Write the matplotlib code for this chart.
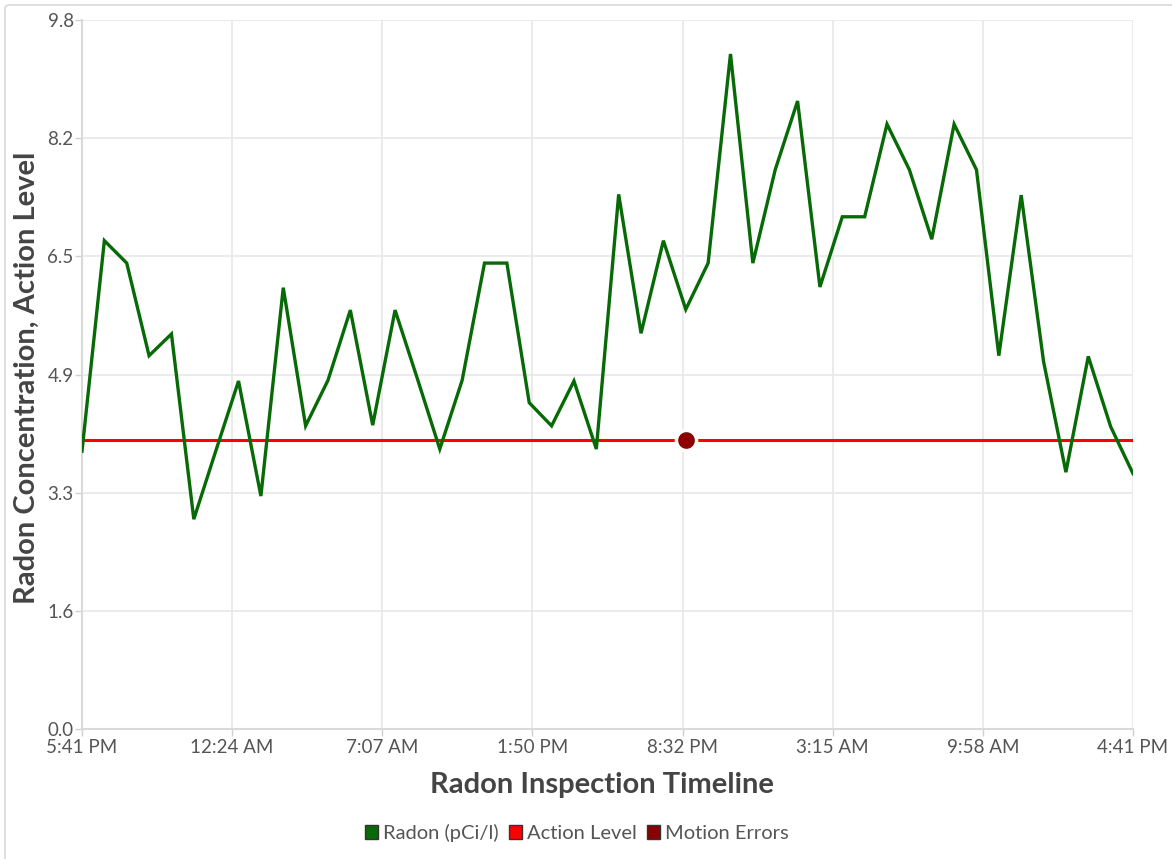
import matplotlib
matplotlib.use("Agg")
import matplotlib.pyplot as plt
import numpy as np
from matplotlib.patches import Patch, FancyBboxPatch

# ---- data ----
hours = list(range(48))
radon = [3.84, 6.75, 6.44, 5.16, 5.46, 2.90, 3.86, 4.81, 3.22, 6.10,
         4.19, 4.82, 5.79, 4.20, 5.79, 4.84, 3.87, 4.82, 6.44, 6.44,
         4.51, 4.19, 4.81, 3.87, 7.39, 5.47, 6.75, 5.80, 6.44, 9.33,
         6.44, 7.73, 8.68, 6.11, 7.08, 7.08, 8.36, 7.73, 6.77, 8.36,
         7.73, 5.16, 7.38, 5.08, 3.55, 5.15, 4.18, 3.53]
action_level = 4.0
motion_error_hours = [27]
motion_error_values = [4.0]
x_tick_labels = ["5:41 PM", "12:24 AM", "7:07 AM", "1:50 PM",
                 "8:32 PM", "3:15 AM", "9:58 AM", "4:41 PM"]
y_ticks = [0.0, 1.6, 3.3, 4.9, 6.5, 8.2, 9.8]

plt.rcParams['font.family'] = ['Lato', 'DejaVu Sans']

fig = plt.figure(figsize=(11.72, 8.59), dpi=100)
ax = fig.add_axes([82/1172, 1-729/859, (1133-82)/1172, (729-20)/859])

ax.plot(hours, radon, color="#076a07", lw=2.4, zorder=3, solid_joinstyle='miter')
ax.plot([hours[0], hours[-1]], [action_level, action_level], color="#ff0000", lw=2.2, zorder=2)
ax.scatter(motion_error_hours, motion_error_values, s=210, color="#8b0000",
           edgecolor="white", linewidth=2.5, zorder=4)

ax.set_xlim(hours[0], hours[-1])
ax.set_ylim(0, 9.8)
ax.set_xticks(np.linspace(hours[0], hours[-1], len(x_tick_labels)))
ax.set_xticklabels(x_tick_labels)
ax.set_yticks(np.linspace(0, 9.8, len(y_ticks)))
ax.set_yticklabels([f"{v:.1f}" for v in y_ticks])

ax.grid(True, color="#e8e8e8", lw=1.2, zorder=0)
ax.set_axisbelow(True)
for s in ["top", "right"]:
    ax.spines[s].set_visible(False)
for s in ["left", "bottom"]:
    ax.spines[s].set_color("#d9d9d9")
    ax.spines[s].set_linewidth(1.5)
ax.tick_params(axis="both", colors="#d0d0d0", labelcolor="#555555", labelsize=13.5,
               length=5, width=1)
ax.tick_params(axis="x", pad=2)
ax.tick_params(axis="y", pad=1)

ax.set_xlabel("Radon Inspection Timeline", fontsize=21, fontweight="bold",
              color="#444444")
ax.set_ylabel("Radon Concentration, Action Level", fontsize=21, fontweight="bold",
              color="#444444")
ax.xaxis.set_label_coords((602-82)/1051, -(785-729)/709)
ax.xaxis.label.set_va("center")
ax.yaxis.set_label_coords(-(82-27)/1051, (729-378)/709)
ax.yaxis.label.set_va("center")

handles = [Patch(facecolor="#076a07", edgecolor="#333333", label="Radon (pCi/l)"),
           Patch(facecolor="#ff0000", edgecolor="#333333", label="Action Level"),
           Patch(facecolor="#8b0000", edgecolor="#333333", label="Motion Errors")]
leg = fig.legend(handles=handles, loc="center", bbox_to_anchor=(577/1172, 1-833/859),
                 ncol=3, frameon=False, fontsize=14.5, handlelength=0.65, handleheight=0.65,
                 handletextpad=0.25, columnspacing=0.5, labelcolor="#555555")

border = FancyBboxPatch((5/1172, -0.02), 1.1, 1-5/859+0.02, transform=fig.transFigure,
                        boxstyle="round,pad=0,rounding_size=0.004", facecolor="none",
                        edgecolor="#d8d8d8", lw=1.2, clip_on=False)
fig.patches.append(border)

fig.savefig("out.png", dpi=100)
